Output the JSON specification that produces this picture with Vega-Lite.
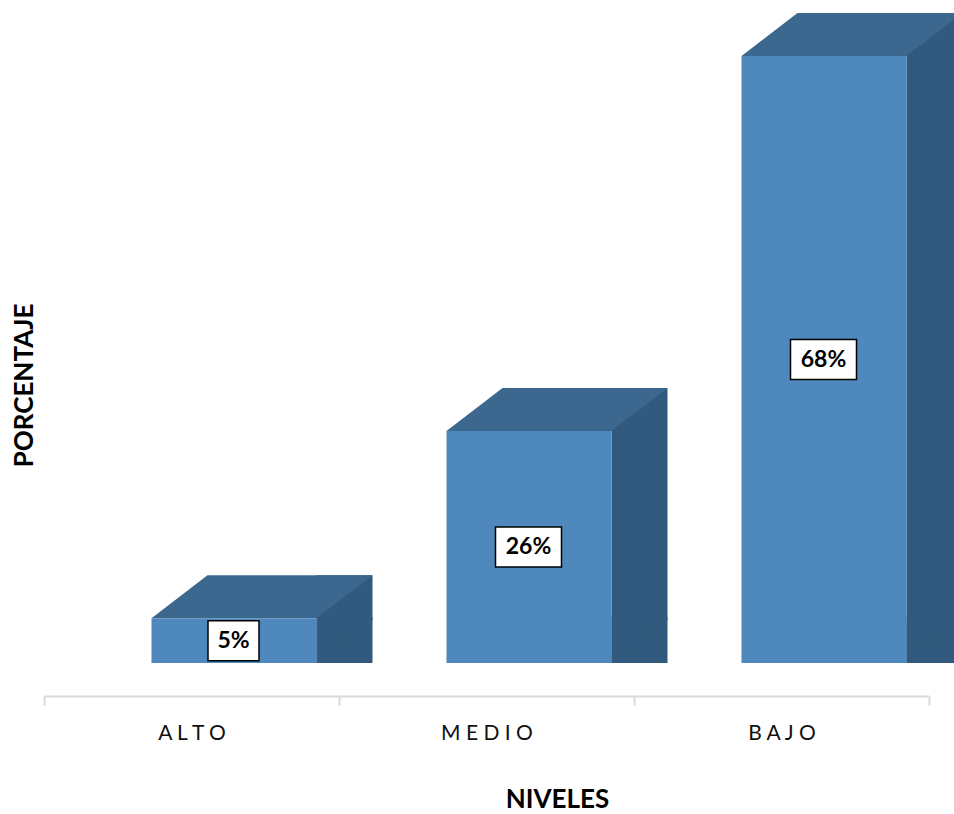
{
  "$schema": "https://vega.github.io/schema/vega-lite/v6.json",
  "width": 885,
  "height": 650,
  "autosize": {"type": "none"},
  "padding": {"left": 44, "top": 13, "right": 25, "bottom": 151},
  "background": "white",
  "data": {
    "values": [
      {"nivel": "ALTO", "porcentaje": 5},
      {"nivel": "MEDIO", "porcentaje": 26},
      {"nivel": "BAJO", "porcentaje": 68}
    ]
  },
  "encoding": {
    "x": {
      "field": "nivel",
      "type": "nominal",
      "sort": null,
      "scale": {"paddingInner": 0, "paddingOuter": 0},
      "axis": {
        "title": "NIVELES",
        "offset": 33,
        "tickBand": "extent",
        "labelAngle": 0,
        "domainColor": "#D9D9D9",
        "domainWidth": 2,
        "tickColor": "#D9D9D9",
        "tickWidth": 2,
        "tickSize": 9,
        "labelFont": "Lato",
        "labelFontSize": 21,
        "labelColor": "#111111",
        "labelPadding": 17,
        "labelExpr": "join(split(datum.label, ''), ' ')",
        "titleFont": "Lato",
        "titleFontSize": 26,
        "titleFontWeight": "bold",
        "titleColor": "#000000",
        "titleX": 513,
        "titleY": 103,
        "titleAlign": "center",
        "titleBaseline": "middle"
      }
    }
  },
  "layer": [
    {
      "layer": [
        {
          "mark": {"type": "bar", "width": 56, "xOffset": 153, "yOffset": -43, "color": "#325A7E"},
          "encoding": {
            "y": {
              "field": "porcentaje",
              "type": "quantitative",
              "scale": {"domain": [0, 72.82], "nice": false},
              "axis": {
                "title": "PORCENTAJE",
                "domain": false,
                "ticks": false,
                "labels": false,
                "grid": false,
                "titleX": -20,
                "titleY": 372,
                "titleAngle": 270,
                "titleAlign": "center",
                "titleBaseline": "middle",
                "titleFont": "Lato",
                "titleFontSize": 26,
                "titleFontWeight": "bold",
                "titleColor": "#000000"
              }
            },
            "y2": {"datum": 0}
          }
        },
        {
          "mark": {"type": "point", "filled": true, "opacity": 1, "size": 4, "color": "#325A7E", "strokeWidth": 0,
                   "shape": "M125,0L125,-46L181,-46L181,-43Z"},
          "encoding": {
            "y": {
              "datum": 0,
              "type": "quantitative",
              "scale": {"domain": [0, 72.82], "nice": false},
              "axis": {
                "title": "PORCENTAJE",
                "domain": false,
                "ticks": false,
                "labels": false,
                "grid": false,
                "titleX": -20,
                "titleY": 372,
                "titleAngle": 270,
                "titleAlign": "center",
                "titleBaseline": "middle",
                "titleFont": "Lato",
                "titleFontSize": 26,
                "titleFontWeight": "bold",
                "titleColor": "#000000"
              }
            }
          }
        },
        {
          "mark": {"type": "point", "filled": true, "opacity": 1, "size": 4, "color": "#3C6890", "strokeWidth": 0,
                   "shape": "M-40,0L16,-43L181,-43L125,0Z"},
          "encoding": {
            "y": {
              "field": "porcentaje",
              "type": "quantitative",
              "scale": {"domain": [0, 72.82], "nice": false},
              "axis": {
                "title": "PORCENTAJE",
                "domain": false,
                "ticks": false,
                "labels": false,
                "grid": false,
                "titleX": -20,
                "titleY": 372,
                "titleAngle": 270,
                "titleAlign": "center",
                "titleBaseline": "middle",
                "titleFont": "Lato",
                "titleFontSize": 26,
                "titleFontWeight": "bold",
                "titleColor": "#000000"
              }
            }
          }
        },
        {
          "mark": {"type": "bar", "width": 165, "xOffset": 42.5, "color": "#4F88BD"},
          "encoding": {
            "y": {
              "field": "porcentaje",
              "type": "quantitative",
              "scale": {"domain": [0, 72.82], "nice": false},
              "axis": {
                "title": "PORCENTAJE",
                "domain": false,
                "ticks": false,
                "labels": false,
                "grid": false,
                "titleX": -20,
                "titleY": 372,
                "titleAngle": 270,
                "titleAlign": "center",
                "titleBaseline": "middle",
                "titleFont": "Lato",
                "titleFontSize": 26,
                "titleFontWeight": "bold",
                "titleColor": "#000000"
              }
            },
            "y2": {"datum": 0}
          }
        }
      ]
    },
    {
      "layer": [
        {
          "mark": {"type": "point", "filled": true, "opacity": 1, "size": 4, "fill": "#FFFFFF", "stroke": "#000000", "strokeWidth": 1.5, "xOffset": 42},
          "encoding": {
            "y": {"field": "porcentaje", "type": "quantitative", "scale": {"domain": [0, 145.64], "nice": false}, "axis": null},
            "shape": {
              "condition": {"test": "datum.porcentaje < 10", "value": "M-25.5,-20H25.5V20H-25.5Z"},
              "value": "M-33,-20H33V20H-33Z"
            }
          }
        },
        {
          "mark": {"type": "text", "font": "Lato", "fontSize": 23, "fontWeight": "bold", "color": "#000000", "align": "center", "baseline": "middle", "xOffset": 42,
                   "text": {"expr": "datum.porcentaje + '%'"}},
          "encoding": {
            "y": {"field": "porcentaje", "type": "quantitative", "scale": {"domain": [0, 145.64], "nice": false}, "axis": null}
          }
        }
      ]
    }
  ],
  "resolve": {"scale": {"y": "independent"}},
  "config": {"view": {"stroke": null}}
}
